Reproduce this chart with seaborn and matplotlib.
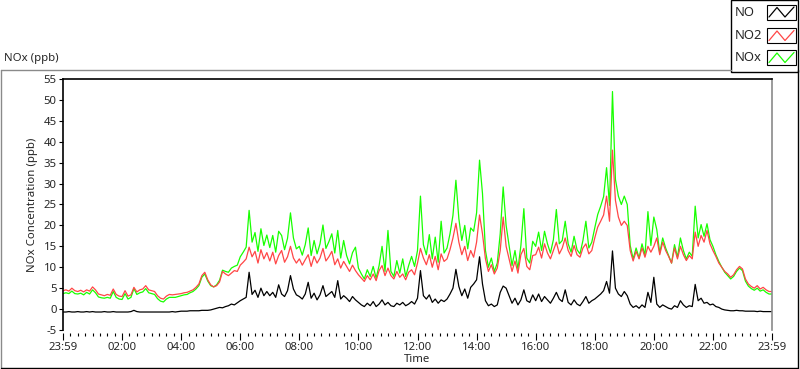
import numpy as np
import pandas as pd
import matplotlib
matplotlib.use("Agg")
import matplotlib.pyplot as plt
from matplotlib.lines import Line2D
from matplotlib.patches import Rectangle
import seaborn as sns

# ---------------- data (6-minute steps) ----------------
hours = np.linspace(0, 24, 241)

no2 = [
    4.4, 4.6, 4.3, 5.0, 4.4, 4.2, 4.5, 4.1, 4.6, 4.3,
    5.3, 4.6, 3.6, 3.4, 3.2, 3.5, 3.3, 4.8, 3.5, 3.1,
    3.0, 4.4, 3.1, 3.4, 5.2, 4.1, 4.6, 4.8, 5.6, 4.6,
    4.4, 4.2, 3.2, 2.6, 2.4, 3.1, 3.5, 3.4, 3.5, 3.6,
    3.7, 3.9, 4.0, 4.3, 4.6, 5.2, 6.0, 8.0, 8.8, 7.0,
    5.8, 5.3, 5.6, 6.5, 9.0, 8.4, 8.0, 8.6, 9.2, 9.0,
    10.5, 11.2, 12.0, 14.8, 12.5, 13.8, 11.0, 14.2, 12.0, 13.5,
    11.5, 13.6, 10.8, 12.8, 14.0, 11.2, 12.5, 15.0, 12.2, 11.0,
    12.0, 10.5, 11.8, 13.0, 10.2, 12.6, 11.0, 12.2, 14.5, 11.5,
    12.5, 13.8, 10.6, 12.0, 9.8, 11.4, 10.2, 9.0, 10.5, 9.2,
    8.2, 7.4, 6.6, 8.0, 7.0, 8.4, 6.8, 9.2, 10.4, 8.0,
    9.8, 8.0, 7.2, 9.0, 7.6, 8.4, 7.0, 8.8, 9.4, 8.2,
    11.0, 14.5, 12.2, 10.6, 13.0, 10.0, 12.6, 9.4, 13.2, 11.4,
    12.0, 14.2, 17.0, 20.5, 16.0, 13.0, 15.0, 11.6, 14.0, 12.4,
    16.0, 22.5, 18.0, 12.0, 9.0, 10.6, 8.4, 9.8, 14.0, 22.0,
    15.0, 12.0, 9.0, 11.5, 8.6, 13.0, 14.5, 10.2, 9.4, 12.8,
    13.0, 14.8, 12.2, 15.6, 13.4, 12.0, 14.0, 16.0, 13.2, 14.6,
    17.0, 14.0, 12.6, 15.2, 13.0, 12.4, 14.6, 15.6, 13.2, 14.0,
    17.0, 19.6, 21.0, 22.5, 27.0, 21.0, 38.0, 26.0, 22.0, 20.0,
    21.0, 20.0, 14.0, 11.5, 13.8, 12.0, 14.6, 12.4, 15.0, 13.6,
    15.0, 17.0, 13.0, 16.0, 14.0, 12.6, 11.0, 14.6, 12.0, 15.0,
    13.0, 11.6, 12.8, 12.0, 18.4, 15.0, 17.6, 16.0, 18.8, 15.6,
    14.0, 12.6, 11.0, 10.0, 9.0, 8.4, 7.6, 8.2, 9.4, 10.2,
    9.6, 7.2, 6.0, 5.4, 5.0, 5.6, 4.8, 5.2, 4.6, 4.2, 4.2,
]

no = [
    -0.7, -0.7, -0.6, -0.7, -0.7, -0.6, -0.7, -0.7, -0.6, -0.7,
    -0.6, -0.7, -0.7, -0.7, -0.6, -0.7, -0.7, -0.6, -0.7, -0.7,
    -0.7, -0.7, -0.7, -0.6, -0.3, -0.6, -0.7, -0.7, -0.7, -0.7,
    -0.7, -0.7, -0.7, -0.7, -0.7, -0.7, -0.7, -0.6, -0.7, -0.6,
    -0.5, -0.5, -0.5, -0.4, -0.4, -0.4, -0.4, -0.3, -0.3, -0.3,
    -0.2, 0.0, 0.2, 0.4, 0.3, 0.6, 0.8, 1.2, 1.0, 1.5,
    2.0, 2.4, 2.8, 8.8, 3.5, 4.5, 2.8, 5.0, 3.2, 4.2,
    3.2, 4.0, 2.8, 5.8, 3.6, 3.0, 4.4, 8.0, 4.8, 3.4,
    3.0, 2.4, 3.6, 6.4, 2.6, 3.8, 2.2, 3.4, 5.6, 3.0,
    3.6, 4.2, 2.8, 6.8, 2.4, 3.2, 2.6, 1.8, 3.0, 2.2,
    1.6, 1.0, 0.6, 1.4, 0.8, 1.8, 0.6, 1.2, 2.2, 1.0,
    1.6, 0.8, 0.6, 1.4, 1.0, 1.6, 0.8, 1.2, 1.8, 1.2,
    2.6, 9.2, 3.2, 2.4, 3.4, 1.6, 2.4, 1.4, 2.2, 1.8,
    2.4, 3.6, 5.0, 9.5, 5.4, 3.2, 4.8, 2.6, 5.2, 6.0,
    7.0, 12.5, 6.0, 2.0, 0.8, 1.2, 0.6, 1.0, 4.0, 5.5,
    5.0, 3.2, 1.4, 2.6, 1.0, 2.2, 4.6, 2.0, 1.6, 3.4,
    2.0, 3.6, 1.8, 3.0, 2.2, 1.4, 2.6, 4.0, 2.4, 1.8,
    4.6, 1.6, 1.0, 2.2, 1.2, 0.8, 1.8, 3.0, 1.4, 2.0,
    2.4, 3.0, 3.6, 4.4, 6.6, 3.8, 13.9, 5.0, 3.6, 3.0,
    4.2, 3.2, 1.2, 0.4, 0.8, 0.2, 1.0, 0.4, 4.0, 1.6,
    7.6, 1.2, 0.4, 1.0, 0.6, 0.2, 0.0, 0.8, 0.4, 2.0,
    1.0, 0.4, 0.8, 0.6, 5.9, 2.0, 2.6, 1.4, 1.6, 1.0,
    1.2, 0.6, 0.4, 0.0, -0.2, -0.3, -0.4, -0.4, -0.3, -0.4,
    -0.4, -0.5, -0.5, -0.5, -0.5, -0.6, -0.5, -0.6, -0.6, -0.6, -0.6,
]

nox = [
    3.7, 3.9, 3.7, 4.3, 3.7, 3.6, 3.8, 3.4, 4.0, 3.6,
    4.6, 3.9, 2.9, 2.7, 2.6, 2.8, 2.6, 4.2, 2.8, 2.4,
    2.3, 3.7, 2.4, 2.8, 4.9, 3.5, 3.9, 4.1, 4.9, 3.9,
    3.7, 3.5, 2.5, 1.9, 1.7, 2.4, 2.8, 2.8, 2.8, 3.0,
    3.2, 3.4, 3.5, 3.9, 4.2, 4.8, 5.6, 7.6, 8.4, 6.7,
    5.6, 5.3, 5.8, 6.9, 9.3, 9.0, 8.8, 9.8, 10.2, 10.5,
    12.5, 13.6, 14.8, 23.6, 16.0, 18.3, 13.8, 19.2, 15.2, 17.7,
    14.7, 17.6, 13.6, 18.6, 17.6, 14.2, 16.9, 23.0, 17.0, 14.4,
    15.0, 12.9, 15.4, 19.4, 12.8, 16.4, 13.2, 15.6, 20.1, 14.5,
    16.1, 18.0, 13.4, 18.8, 12.2, 16.4, 12.8, 10.8, 13.5, 14.8,
    9.8, 8.4, 7.2, 9.4, 7.8, 10.2, 7.4, 10.4, 15.0, 9.0,
    18.8, 9.0, 7.8, 11.6, 8.6, 12.0, 7.8, 10.4, 12.6, 10.2,
    14.0, 27.0, 15.4, 13.0, 17.8, 12.0, 17.2, 11.2, 21.0, 13.4,
    14.6, 18.0, 22.4, 30.8, 21.6, 16.4, 20.0, 14.4, 19.4, 18.6,
    23.0, 35.6, 27.6, 14.0, 10.0, 12.2, 9.0, 11.0, 18.0, 29.2,
    20.0, 15.2, 10.4, 14.0, 9.6, 15.2, 24.0, 12.2, 11.0, 16.2,
    15.0, 18.4, 14.0, 18.6, 15.6, 13.4, 16.6, 23.8, 15.6, 16.4,
    21.0, 15.6, 13.6, 17.4, 14.2, 13.2, 16.4, 21.0, 14.6, 16.0,
    19.4, 22.6, 24.6, 26.9, 33.8, 24.8, 52.0, 31.0, 27.0, 25.0,
    27.0, 25.0, 15.2, 12.0, 14.6, 12.2, 15.6, 12.8, 23.3, 15.2,
    22.0, 19.0, 13.4, 17.0, 14.6, 12.8, 11.0, 15.4, 12.4, 17.0,
    14.0, 12.0, 13.6, 12.6, 24.6, 17.0, 20.2, 17.4, 20.4, 16.6,
    15.0, 13.0, 11.4, 10.0, 8.8, 8.0, 7.2, 7.8, 9.0, 9.8,
    9.2, 6.7, 5.5, 4.9, 4.5, 5.0, 4.3, 4.6, 4.0, 3.6, 3.6,
]

series_names = ["NO", "NO2", "NOx"]
x_tick_hours = [0, 2, 4, 6, 8, 10, 12, 14, 16, 18, 20, 22, 24]
x_tick_labels = ["23:59", "02:00", "04:00", "06:00", "08:00", "10:00", "12:00",
                 "14:00", "16:00", "18:00", "20:00", "22:00", "23:59"]
y_ticks = list(range(-5, 56, 5))

# ---------------- styling ----------------
sns.set_style("white")
plt.rcParams["font.family"] = ["Noto Sans", "DejaVu Sans"]
FS = 8.2
LEG_FS = 9.4
plt.rcParams["xtick.labelsize"] = FS
plt.rcParams["ytick.labelsize"] = FS
W, H = 800, 369

colors = {"NO": "#000000", "NO2": "#FF4646", "NOx": "#18FF00"}

df = pd.DataFrame({"Time": np.concatenate([hours, hours, hours]),
                   "value": np.concatenate([nox, no2, no]),
                   "series": ["NOx"] * len(hours) + ["NO2"] * len(hours) + ["NO"] * len(hours)})

fig = plt.figure(figsize=(W / 100, H / 100), dpi=100)
fig.patch.set_facecolor("white")


def fx(px):
    return px / W


def fy(py):
    return 1 - py / H


ax_l, ax_r, ax_t, ax_b = 63, 772, 79, 330
ax = fig.add_axes([fx(ax_l), fy(ax_b), (ax_r - ax_l) / W, (ax_b - ax_t) / H])

for name in ["NOx", "NO2", "NO"]:
    sub = df[df["series"] == name]
    sns.lineplot(data=sub, x="Time", y="value", ax=ax, color=colors[name],
                 linewidth=0.9, estimator=None, sort=False, legend=False)

ax.set_xlim(0, 24)
ax.set_ylim(-5, 55)
ax.set_xlabel("")
ax.set_ylabel("")
ax.set_yticks(y_ticks)
ax.set_yticklabels([str(v) for v in y_ticks])
ax.set_xticks(x_tick_hours)
ax.set_xticklabels(x_tick_labels)
ax.set_xticks(np.arange(0, 24.01, 0.25), minor=True)
ax.tick_params(axis="y", which="major", direction="out", length=3, width=0.8,
               pad=1.5, color="black", left=True, labelsize=FS)
ax.tick_params(axis="x", which="major", direction="out", length=5, width=0.8,
               pad=2, color="black", bottom=True, labelsize=FS)
ax.tick_params(axis="x", which="minor", direction="out", length=2.5, width=0.8,
               color="black", bottom=True)
ax.grid(False)

for s in ["left", "top"]:
    ax.spines[s].set_visible(True)
    ax.spines[s].set_color("black")
    ax.spines[s].set_linewidth(1.2)
ax.spines["right"].set_visible(True)
ax.spines["right"].set_color("#8a8a8a")
ax.spines["right"].set_linewidth(1.2)
ax.spines["bottom"].set_position(("outward", 2))
ax.spines["bottom"].set_visible(False)

# axis titles
fig.text(fx(33), fy(205), "NOx Concentration (ppb)", rotation=90, ha="center",
         va="center", fontsize=FS)
fig.text(fx(417.5), fy(360), "Time", ha="center", va="center", fontsize=FS)
fig.text(fx(4), fy(59), "NOx (ppb)", ha="left", va="center", fontsize=FS)

# outer frame
def fline(x0, y0, x1, y1, color, lw=1.0):
    fig.add_artist(Line2D([fx(x0), fx(x1)], [fy(y0), fy(y1)], color=color,
                          linewidth=lw, transform=fig.transFigure))

fline(0.5, 69.5, 731, 69.5, "#8a8a8a")
fline(0.8, 69.5, 0.8, 367.5, "#8a8a8a")
fline(0.5, 367.5, 798, 367.5, "black")
fline(798, 69.5, 798, 367.5, "black")

# legend panel
fig.add_artist(Rectangle((fx(731), fy(72)), (798 - 731) / W, 72 / H,
                         transform=fig.transFigure, facecolor="white",
                         edgecolor="black", linewidth=1.0))
leg_rows = [("NO", 12), ("NO2", 35.5), ("NOx", 57.5)]
for name, yc in leg_rows:
    fig.text(fx(734.5), fy(yc), name, ha="left", va="center", fontsize=LEG_FS)
    fig.add_artist(Rectangle((fx(767), fy(yc + 7.5)), 29 / W, 15 / H,
                             transform=fig.transFigure, facecolor="white",
                             edgecolor="black", linewidth=0.8))
    zx = [769, 777, 785, 794]
    zy = [yc + 5, yc - 4.5, yc + 5, yc - 5]
    fig.add_artist(Line2D([fx(v) for v in zx], [fy(v) for v in zy],
                          color=colors[name], linewidth=0.9,
                          transform=fig.transFigure))

fig.savefig("out.png", dpi=100)
